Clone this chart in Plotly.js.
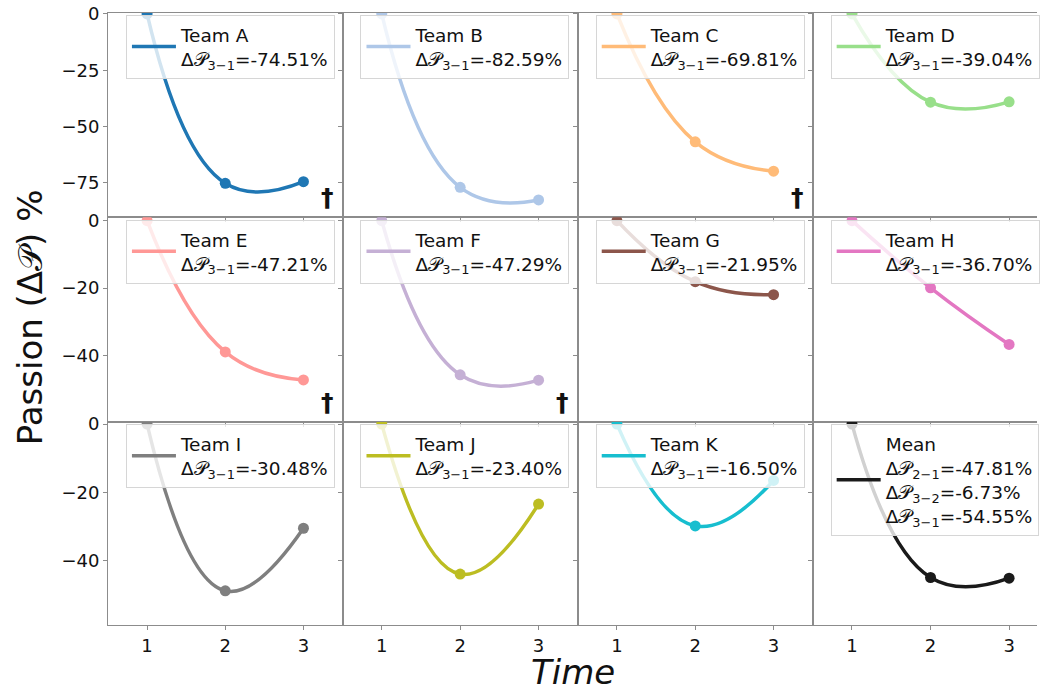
<!DOCTYPE html>
<html><head><meta charset="utf-8">
<script src="https://cdn.plot.ly/plotly-3.0.1.min.js"></script>
<style>html,body{margin:0;padding:0;background:#fff}</style>
</head><body>
<div id="chart" style="width:1040px;height:693px"></div>
<script>
// ---------- data ----------
const times = [1, 2, 3];
const teams = ["Team A","Team B","Team C","Team D","Team E","Team F","Team G","Team H","Team I","Team J","Team K","Mean"];
const teamColors = ["#1f77b4","#aec7e8","#ffbb78","#98df8a","#ff9896","#c5b0d5","#8c564b","#e377c2","#7f7f7f","#bcbd22","#17becf","#1a1a1a"];
const passionT1 = [0,0,0,0,0,0,0,0,0,0,0,0];
const passionT2 = [-75.2,-77.0,-56.8,-39.2,-38.9,-45.7,-18.1,-19.9,-48.8,-43.9,-29.8,-44.9];
const passionT3 = [-74.51,-82.59,-69.81,-39.04,-47.21,-47.29,-21.95,-36.70,-30.48,-23.40,-16.50,-45.1];
const legendLines = [
  ["Δ𝒫<sub>3−1</sub>=-74.51%"],
  ["Δ𝒫<sub>3−1</sub>=-82.59%"],
  ["Δ𝒫<sub>3−1</sub>=-69.81%"],
  ["Δ𝒫<sub>3−1</sub>=-39.04%"],
  ["Δ𝒫<sub>3−1</sub>=-47.21%"],
  ["Δ𝒫<sub>3−1</sub>=-47.29%"],
  ["Δ𝒫<sub>3−1</sub>=-21.95%"],
  ["Δ𝒫<sub>3−1</sub>=-36.70%"],
  ["Δ𝒫<sub>3−1</sub>=-30.48%"],
  ["Δ𝒫<sub>3−1</sub>=-23.40%"],
  ["Δ𝒫<sub>3−1</sub>=-16.50%"],
  ["Δ𝒫<sub>2−1</sub>=-47.81%","Δ𝒫<sub>3−2</sub>=-6.73%","Δ𝒫<sub>3−1</sub>=-54.55%"]
];
const hasDagger = [true,false,true,false,true,true,false,false,false,false,false,false];
const rowRanges = [[-90.3,0.4],[-59.6,1.0],[-58.8,0.7]];
const rowTicks = [[0,-25,-50,-75],[0,-20,-40],[0,-20,-40]];
const xTicks = [1,2,3];

// ---------- layout geometry ----------
const W = 1040, H = 693;
const mL = 108, mR = 0, mT = 13, mB = 68;
const pw = W - mL - mR, ph = H - mT - mB;
const colPx = [[108,343.3],[343.3,579.3],[579.3,815],[815,1040]];
const rowPx = [[13,217.3],[217.3,421.7],[421.7,625]];
const px2x = p => (p - mL) / pw;
const px2y = p => (H - mB - p) / ph;
const pxPerUnit = 78.8;

const FONT = "DejaVu Sans, Liberation Sans, sans-serif";
const axisGray = "#8c8c8c";

const data = [];
const layout = {
  width: W, height: H,
  margin: {l: mL, r: mR, t: mT, b: mB},
  paper_bgcolor: "#fff", plot_bgcolor: "#fff",
  font: {family: FONT, color: "#111", size: 18},
  showlegend: true,
  annotations: [],
};

for (let k = 0; k < 12; k++) {
  const r = Math.floor(k / 4), c = k % 4;
  const idx = k + 1;
  const xa = "x" + (idx === 1 ? "" : idx), ya = "y" + (idx === 1 ? "" : idx);
  const xaName = "xaxis" + (idx === 1 ? "" : idx), yaName = "yaxis" + (idx === 1 ? "" : idx);
  const legName = "legend" + (idx === 1 ? "" : idx);
  const ys = [passionT1[k], passionT2[k], passionT3[k]];

  const xMax = 0.5 + (colPx[c][1] - colPx[c][0]) / pxPerUnit;
  layout[xaName] = {
    domain: [px2x(colPx[c][0]), px2x(colPx[c][1])],
    range: [0.5, c === 3 ? xMax : 3.5],
    anchor: ya, tickvals: xTicks, ticktext: ["1","2","3"],
    showticklabels: r === 2, ticks: "outside", ticklen: 4, tickwidth: 1, tickcolor: axisGray,
    showline: true, linecolor: axisGray, linewidth: 1, mirror: true,
    showgrid: false, zeroline: false, fixedrange: true,
    tickfont: {size: 18, family: FONT, color: "#111"}
  };
  layout[yaName] = {
    domain: [px2y(rowPx[r][1]), px2y(rowPx[r][0])],
    range: rowRanges[r], anchor: xa, tickvals: rowTicks[r],
    showticklabels: c === 0, ticks: "outside", ticklen: 4, tickwidth: 1, tickcolor: axisGray,
    showline: true, linecolor: axisGray, linewidth: 1, mirror: c < 3,
    showgrid: false, zeroline: false, fixedrange: true,
    tickfont: {size: 18, family: FONT, color: "#111"}
  };

  const name = [teams[k]].concat(legendLines[k]).join("<br>");
  data.push({
    type: "scatter", mode: "lines", x: times, y: ys, xaxis: xa, yaxis: ya,
    line: {color: teamColors[k], width: 3.5, shape: "spline", smoothing: 1.3},
    name: name, legend: legName, showlegend: true, hoverinfo: "skip"
  });
  data.push({
    type: "scatter", mode: "markers", x: times, y: ys, xaxis: xa, yaxis: ya,
    marker: {color: teamColors[k], size: 11}, showlegend: false, hoverinfo: "skip"
  });

  layout[legName] = {
    x: px2x(colPx[c][0] + 18), y: px2y(rowPx[r][0] + (r === 0 ? 2 : 2.5)),
    xanchor: "left", yanchor: "top", xref: "paper", yref: "paper",
    bgcolor: "rgba(255,255,255,0.8)", bordercolor: "#d6d6d6", borderwidth: 1,
    font: {family: FONT, size: 18.5, color: "#111"},
    itemwidth: 44, tracegroupgap: 0
  };

  if (hasDagger[k]) {
    layout.annotations.push({
      xref: xa, yref: ya + " domain", x: 3.31, y: 0.095,
      text: "<b>†</b>", showarrow: false, font: {family: FONT, size: 25, color: "#111"},
      xanchor: "center", yanchor: "middle"
    });
  }
}

layout.annotations.push({
  xref: "paper", yref: "paper", x: px2x(30), y: px2y(317),
  text: "Passion (Δ𝒫) %", textangle: -90, showarrow: false,
  font: {family: FONT, size: 34, color: "#111"}, xanchor: "center", yanchor: "middle"
});
layout.annotations.push({
  xref: "paper", yref: "paper", x: px2x(575), y: px2y(672),
  text: "<i>Time</i>", showarrow: false,
  font: {family: FONT, size: 34, color: "#111"}, xanchor: "center", yanchor: "middle"
});

Plotly.newPlot("chart", data, layout, {displayModeBar: false, staticPlot: true});
</script>
</body></html>
